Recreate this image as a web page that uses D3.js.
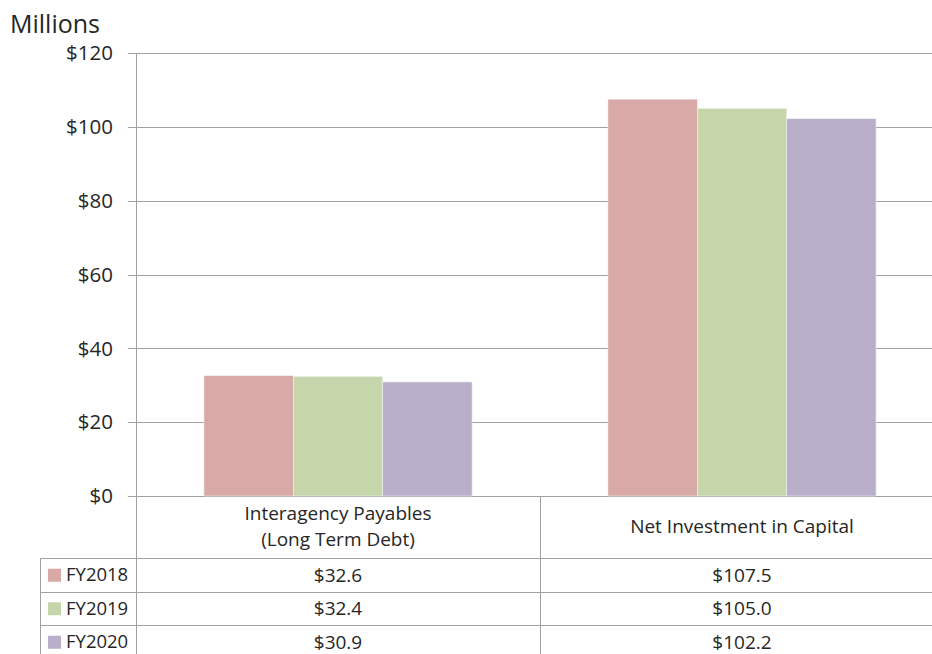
<!DOCTYPE html>
<html><head><meta charset="utf-8">
<script src="https://cdn.jsdelivr.net/npm/d3@7"></script>
<style>
body{margin:0;background:#fff;}
text{font-family:"Open Sans",sans-serif;fill:#262626;}
</style></head>
<body><svg id="c" width="932" height="654"></svg>
<script>
const categories = ["Interagency Payables\n(Long Term Debt)", "Net Investment in Capital"];
const series = ["FY2018", "FY2019", "FY2020"];
const fy2018 = [32.6, 107.5];
const fy2019 = [32.4, 105.0];
const fy2020 = [30.9, 102.2];
const tickValues = [0, 20, 40, 60, 80, 100, 120];
const colors = ["#d9a9a8", "#c5d6ab", "#b9afca"];
const valuesBySeries = [fy2018, fy2019, fy2020];

const svg = d3.select("#c");
const pLeft = 136, pRight = 944, pTop = 53, pBottom = 496;
const y = d3.scaleLinear().domain([0, 120]).range([pBottom, pTop]);
const x = d3.scaleBand().domain(categories).range([pLeft, pRight]).padding(0);
const xs = d3.scaleBand().domain(series).range([0, x.bandwidth()]).paddingInner(0).paddingOuter(0.76);
const grid = "#a0a0a0";

// gridlines
svg.append("g").selectAll("line").data(tickValues).join("line")
  .attr("x1", pLeft - 8).attr("x2", 932)
  .attr("y1", d => Math.round(y(d)) + 0.5).attr("y2", d => Math.round(y(d)) + 0.5)
  .attr("stroke", grid).attr("stroke-width", 1);

// y tick labels
svg.append("g").selectAll("text").data(tickValues).join("text")
  .attr("x", 113).attr("y", d => y(d)).attr("dy", "0.35em")
  .attr("text-anchor", "end").style("font-size", "20.5px")
  .text(d => "$" + d);

svg.append("text").attr("x", 10).attr("y", 33).style("font-size", "25px").text("Millions");

// bars
series.forEach((s, si) => {
  svg.append("g").selectAll("rect").data(categories).join("rect")
    .attr("x", c => x(c) + xs(s))
    .attr("width", xs.bandwidth())
    .attr("y", (c, ci) => y(valuesBySeries[si][ci]))
    .attr("height", (c, ci) => y(0) - y(valuesBySeries[si][ci]))
    .attr("fill", colors[si])
    .attr("stroke", "#f2f2f2").attr("stroke-width", 0.6);
});

// y axis line
svg.append("line").attr("x1", pLeft + 0.5).attr("x2", pLeft + 0.5).attr("y1", pTop).attr("y2", 654)
  .attr("stroke", grid);
// category divider
svg.append("line").attr("x1", x(categories[1]) + 0.5).attr("x2", x(categories[1]) + 0.5)
  .attr("y1", pBottom).attr("y2", 654).attr("stroke", grid);

// table rows
const headerBottom = 558, rowH = 33.5, tableLeft = 40;
const rowLines = [0, 1, 2, 3].map(i => headerBottom + i * rowH);
svg.append("g").selectAll("line").data(rowLines).join("line")
  .attr("x1", tableLeft).attr("x2", 932)
  .attr("y1", d => Math.round(d) + 0.5).attr("y2", d => Math.round(d) + 0.5)
  .attr("stroke", grid);
svg.append("line").attr("x1", tableLeft + 0.5).attr("x2", tableLeft + 0.5)
  .attr("y1", headerBottom).attr("y2", 654).attr("stroke", grid);

// category labels
categories.forEach(c => {
  const lines = c.split("\n");
  const cx = x(c) + x.bandwidth() / 2;
  const t = svg.append("text").attr("text-anchor", "middle").style("font-size", "19px");
  if (lines.length === 2) {
    t.append("tspan").attr("x", cx).attr("y", 520).text(lines[0]);
    t.append("tspan").attr("x", cx).attr("y", 546).text(lines[1]);
  } else {
    t.attr("x", cx).attr("y", 533).text(lines[0]);
  }
});

// legend + values
series.forEach((s, si) => {
  const cy = headerBottom + si * rowH + rowH / 2;
  svg.append("rect").attr("x", 48).attr("y", cy - 6).attr("width", 13).attr("height", 13).attr("fill", colors[si]);
  svg.append("text").attr("x", 66).attr("y", cy).attr("dy", "0.36em").style("font-size", "18.5px").text(s);
  categories.forEach((c, ci) => {
    svg.append("text").attr("x", x(c) + x.bandwidth() / 2).attr("y", cy).attr("dy", "0.36em")
      .attr("text-anchor", "middle").style("font-size", "19px")
      .text("$" + valuesBySeries[si][ci].toFixed(1));
  });
});
</script></body></html>
